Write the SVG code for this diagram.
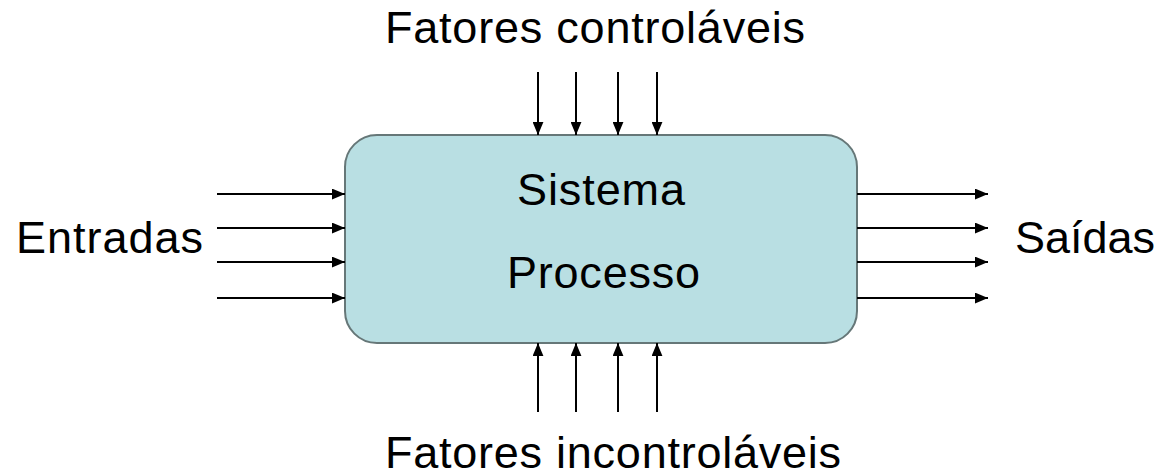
<svg xmlns="http://www.w3.org/2000/svg" width="1161" height="472" viewBox="0 0 1161 472">
<style>
text{font-family:"Liberation Sans",Arial,sans-serif;font-size:45px;fill:#000}
.c{stroke:#000;stroke-width:2;fill:none;marker-end:url(#ah)}
</style>
<defs>
<marker id="ah" viewBox="0 0 12 10" refX="12" refY="5" markerWidth="6.5" markerHeight="5.5" orient="auto" markerUnits="strokeWidth">
<path d="M0,0 L12,5 L0,10 z" fill="#000"/>
</marker>
</defs>
<rect width="1161" height="472" fill="#fff"/>
<g id="processo">
<rect x="345" y="135" width="512" height="208" rx="32" ry="32" fill="#b9dfe3" stroke="#667778" stroke-width="2"/>
<text x="517" y="205" textLength="168">Sistema</text>
<text x="507" y="288" textLength="193">Processo</text>
</g>
<g id="labels">
<text x="385" y="43" textLength="420">Fatores controláveis</text>
<text x="16" y="253" textLength="187">Entradas</text>
<text x="1015" y="253" textLength="140">Saídas</text>
<text x="385" y="468" textLength="456">Fatores incontroláveis</text>
</g>
<g id="connectors">
<line class="c" x1="538" y1="72" x2="538" y2="135"/>
<line class="c" x1="576" y1="72" x2="576" y2="135"/>
<line class="c" x1="618" y1="72" x2="618" y2="135"/>
<line class="c" x1="657" y1="72" x2="657" y2="135"/>
<line class="c" x1="538" y1="412" x2="538" y2="343"/>
<line class="c" x1="576" y1="412" x2="576" y2="343"/>
<line class="c" x1="618" y1="412" x2="618" y2="343"/>
<line class="c" x1="657" y1="412" x2="657" y2="343"/>
<line class="c" x1="217" y1="194" x2="345" y2="194"/>
<line class="c" x1="217" y1="228" x2="345" y2="228"/>
<line class="c" x1="217" y1="262" x2="345" y2="262"/>
<line class="c" x1="217" y1="298" x2="345" y2="298"/>
<line class="c" x1="857" y1="194" x2="988" y2="194"/>
<line class="c" x1="857" y1="228" x2="988" y2="228"/>
<line class="c" x1="857" y1="262" x2="988" y2="262"/>
<line class="c" x1="857" y1="298" x2="988" y2="298"/>
</g>
</svg>
